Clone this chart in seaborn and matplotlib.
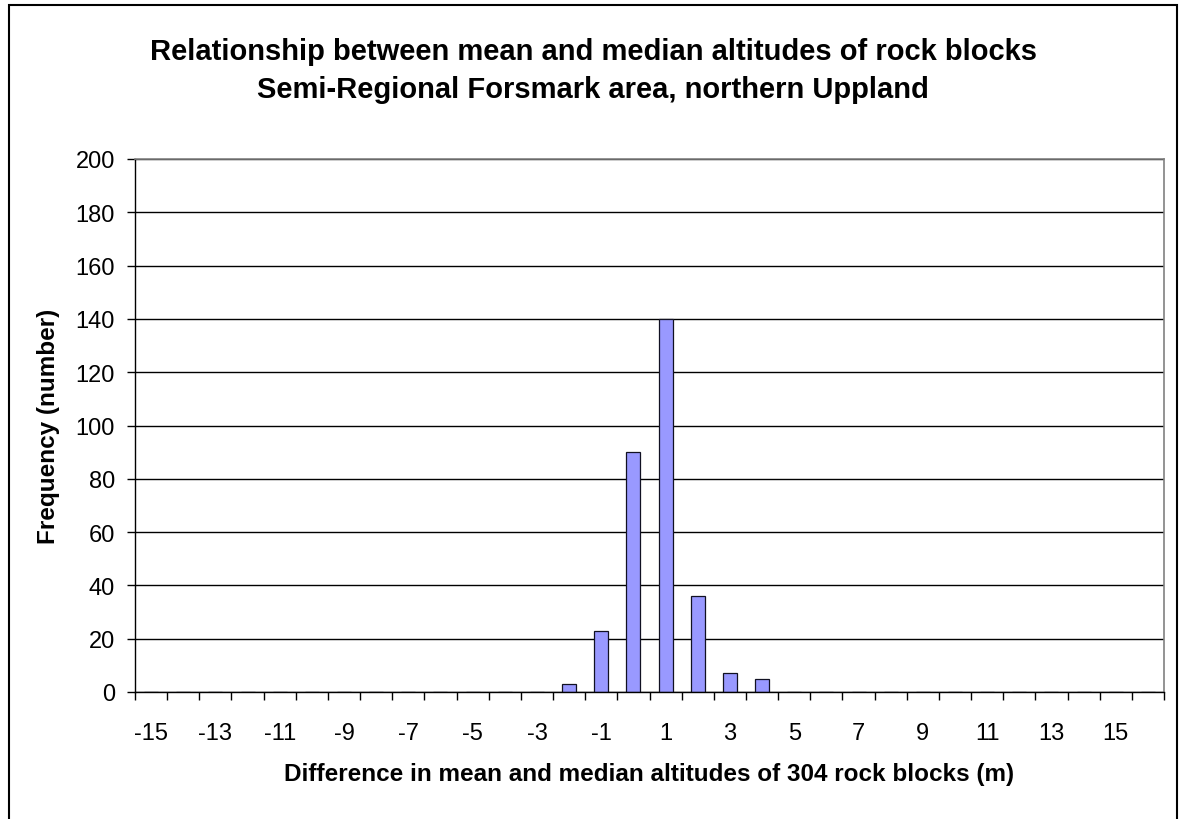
import matplotlib
matplotlib.use('Agg')
import matplotlib.pyplot as plt
import seaborn as sns
import pandas as pd
from matplotlib.patches import Rectangle

# difference classes (m) and number of rock blocks in each
differences = list(range(-15, 17))
counts = [0] * 13 + [3, 23, 90, 140, 36, 7, 5] + [0] * 12
tick_labels = [str(d) if d % 2 else '' for d in differences]
y_ticks = list(range(0, 201, 20))

title_line1 = 'Relationship between mean and median altitudes of rock blocks'
title_line2 = 'Semi-Regional Forsmark area, northern Uppland'
x_label = 'Difference in mean and median altitudes of 304 rock blocks (m)'
y_label = 'Frequency (number)'

df = pd.DataFrame({'Difference': differences, 'Count': counts})

sns.set_style('white')
plt.rcParams['font.family'] = ['Liberation Sans', 'DejaVu Sans']
plt.rcParams['text.color'] = 'black'
plt.rcParams['axes.labelcolor'] = 'black'
plt.rcParams['xtick.color'] = 'black'
plt.rcParams['ytick.color'] = 'black'

W, H = 1186, 820
fig = plt.figure(figsize=(W / 100, H / 100), dpi=100)

# plot area in pixel terms: x 135..1164, y 160..693
ax = fig.add_axes([135 / W, 1 - 693 / H, (1164 - 135) / W, (693 - 160) / H])

sns.barplot(data=df, x='Difference', y='Count', order=differences,
            color='#9999FF', saturation=1, edgecolor='#111122', linewidth=0.9,
            width=0.435, errorbar=None, ax=ax)

ax.set_xlim(-0.5, len(differences) - 0.5)
ax.set_ylim(0, 200)
ax.set_yticks(y_ticks)
ax.yaxis.grid(True, color='black', linewidth=1)
ax.xaxis.grid(False)
ax.set_axisbelow(True)

# tick marks between categories, labels at category centres
ax.set_xticks([i - 0.5 for i in range(len(differences) + 1)])
ax.set_xticklabels([])
ax.set_xticks(range(len(differences)), labels=tick_labels, minor=True)
ax.tick_params(axis='x', which='major', direction='out', length=5.8, width=1,
               color='black', bottom=True)
ax.tick_params(axis='x', which='minor', length=0, pad=21.6, labelsize=17)
ax.tick_params(axis='y', direction='out', length=5.8, width=1, color='black',
               left=True, pad=8.6, labelsize=17)

for side in ['left', 'bottom']:
    ax.spines[side].set_color('black')
    ax.spines[side].set_linewidth(1)
for side in ['top', 'right']:
    ax.spines[side].set_color('#808080')
    ax.spines[side].set_linewidth(1.2)

ax.set_xlabel(x_label, fontsize=17.5, fontweight='bold')
ax.set_ylabel(y_label, fontsize=17.5, fontweight='bold')
ax.xaxis.set_label_coords(0.5, (693 - 763) / (693 - 160))
ax.yaxis.label.set_va('center')
ax.yaxis.set_label_coords((49 - 135) / (1164 - 135), 0.5)

fig.text(0.5, 1 - 60 / H, title_line1, ha='center', va='baseline',
         fontsize=21, fontweight='bold')
fig.text(0.5, 1 - 98 / H, title_line2, ha='center', va='baseline',
         fontsize=21, fontweight='bold')

# chart area border
fig.patches.append(Rectangle((9 / W, -0.02), (1177 - 9) / W, 1 - 6 / H + 0.02,
                             transform=fig.transFigure, fill=False,
                             edgecolor='black', linewidth=1.5))

fig.savefig('out.png', dpi=100)
plt.close(fig)
